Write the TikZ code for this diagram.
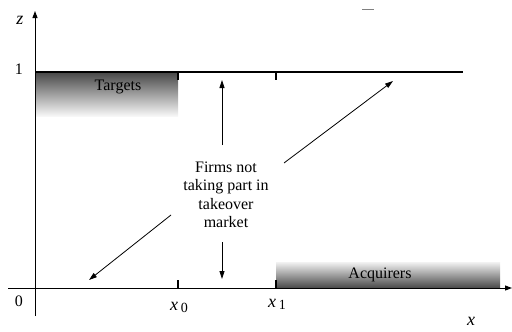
\documentclass[tikz,border=0pt]{standalone}
\usepackage{fontspec}
\setmainfont{Liberation Serif}
\usetikzlibrary{arrows.meta}
\begin{document}
\begin{tikzpicture}[x=1pt,y=-1pt,
  axis/.style={line width=1pt,-{Triangle[length=7pt,width=5pt]}},
  level/.style={line width=1.8pt},
  tick/.style={line width=1.8pt},
  pointer/.style={line width=0.8pt,-{Triangle[length=8pt,width=5pt]}},
  lbl/.style={font=\fontsize{16}{19}\selectfont,inner sep=0pt},
  var/.style={font=\fontsize{18}{20}\selectfont\itshape,inner sep=0pt},
  txt/.style={font=\fontsize{16}{18.5}\selectfont,align=center,inner sep=1pt}]
\useasboundingbox (0,0) rectangle (512,332);
% shaded boxes
\shade[top color=black!72, bottom color=black!3] (35,72) rectangle (178,116);
\shade[top color=black!5, bottom color=black!72] (276,262) rectangle (500,288);
% axes
\coordinate (yb) at (35,316);
\coordinate (yt) at (35,11);
\coordinate (xl) at (8,288);
\coordinate (xr) at (512,288);
\draw[axis] (yb) -- (yt);
\draw[axis] (xl) -- (xr);
% level z=1
\coordinate (l0) at (35,72);
\coordinate (l1) at (463,72);
\draw[level] (l0) -- (l1);
% ticks
\draw[tick] (178,72) -- (178,80);
\draw[tick] (276,72) -- (276,80);
\draw[tick] (178,288) -- (178,280);
\draw[tick] (276,288) -- (276,280);
% labels
\node[var] (z) at (20,20) {z};
\node[lbl] (one) at (19,69) {1};
\node[lbl] (zero) at (19,301) {0};
\node[var,anchor=base] (x0) at (179,310) {x\,\raisebox{-2pt}{\normalfont\fontsize{14}{16}\selectfont 0}};
\node[var,anchor=base] (x1) at (277,307) {x\,\raisebox{-2pt}{\normalfont\fontsize{14}{16}\selectfont 1}};
\node[var] (x) at (471,321) {x};
\node[lbl] (targets) at (118,87) {Targets};
\node[lbl] (acq) at (380,275) {Acquirers};
\node[txt] (firms) at (226,195) {Firms not\\taking part in\\takeover\\market};
% pointers
\coordinate (upT) at (222,80);
\coordinate (dnT) at (222,279);
\coordinate (urT) at (393,81);
\coordinate (llT) at (89,280);
\draw[pointer] (222,145) -- (upT);
\draw[pointer] (222,242) -- (dnT);
\draw[pointer] (284,163) -- (urT);
\draw[pointer] (171,215) -- (llT);
% small mark at top
\draw[black!50,line width=0.8pt] (362,9) -- (374,9);
\end{tikzpicture}
\end{document}
